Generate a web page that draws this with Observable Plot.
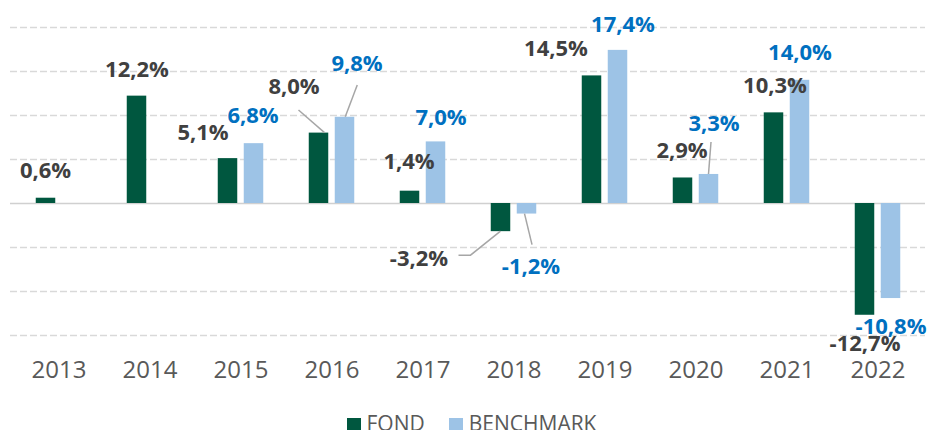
<!DOCTYPE html>
<html>
<head>
<meta charset="utf-8">
<script src="https://cdn.jsdelivr.net/npm/d3@7"></script>
<script src="https://cdn.jsdelivr.net/npm/@observablehq/plot@0.6"></script>
<style>
  html, body { margin: 0; padding: 0; background: #fff; }
  body { width: 930px; height: 430px; overflow: hidden; font-family: "Open Sans", sans-serif; }
  #legend { display: flex; justify-content: center; align-items: flex-start; margin-top: 8px; margin-left: 13px;
            font-size: 21px; line-height: 21px; color: #595959; }
  #legend .item { display: flex; align-items: flex-start; }
  #legend .sw { width: 14px; height: 14px; margin-top: 5px; margin-right: 6px; }
  #legend .item + .item { margin-left: 24px; }
</style>
</head>
<body>
<div id="chart"></div>
<div id="legend"></div>
<script>
// ---- data ----
const years = [2013, 2014, 2015, 2016, 2017, 2018, 2019, 2020, 2021, 2022];
const fondValues = [0.6, 12.2, 5.1, 8.0, 1.4, -3.2, 14.5, 2.9, 10.3, -12.7];
const benchmarkValues = [null, null, 6.8, 9.8, 7.0, -1.2, 17.4, 3.3, 14.0, -10.8];
const seriesNames = ["FOND", "BENCHMARK"];
const yTicks = [-15, -10, -5, 0, 5, 10, 15, 20];

// ---- styles ----
const colors = { FOND: "#00573F", BENCHMARK: "#9DC3E6" };
const labelColors = { FOND: "#404040", BENCHMARK: "#0070C0" };

// label placement (pixel offsets from band centre / bar end)
const labelOffsets = {
  FOND: {
    2013: [-13.5, -27], 2014: [-13, -26], 2015: [-38, -26], 2016: [-38, -46], 2017: [-14, -29],
    2018: [-95, 27], 2019: [-49, -27], 2020: [-14, -27], 2021: [-12, -27], 2022: [-13, 29]
  },
  BENCHMARK: {
    2015: [12, -28], 2016: [25, -53], 2017: [18, -24], 2018: [17, 53], 2019: [18, -25],
    2020: [18, -51], 2021: [13, -27], 2022: [13, 28]
  }
};
const leaderOffsets = [
  { series: "FOND", year: 2016, pts: [[-33, -22.6], [-7, 0]] },
  { series: "BENCHMARK", year: 2016, pts: [[25.75, -31.8], [13.75, 0]] },
  { series: "FOND", year: 2018, pts: [[-55, 24], [-43, 24], [-13, 0]] },
  { series: "BENCHMARK", year: 2018, pts: [[11, 0], [18.5, 31]] },
  { series: "BENCHMARK", year: 2020, pts: [[15.5, -32], [13, 0]] }
];

const fmt = v => v.toFixed(1).replace(".", ",") + "%";

const rows = [];
years.forEach((y, i) => {
  rows.push({ year: y, series: "FOND", value: fondValues[i] });
  if (benchmarkValues[i] != null) rows.push({ year: y, series: "BENCHMARK", value: benchmarkValues[i] });
});
const valueOf = (series, year) => rows.find(r => r.series === series && r.year === year).value;

const W = 930, ML = 10, MR = 5;
const bw = (W - ML - MR) / years.length;
const barW = 20, gap = 6;

const fondRows = rows.filter(r => r.series === "FOND");
const benchRows = rows.filter(r => r.series === "BENCHMARK");

const labelMarks = rows.map(r => {
  const [dx, dy] = labelOffsets[r.series][r.year];
  return Plot.text([r], {
    x: "year", y: "value", text: d => fmt(d.value), dx, dy,
    fill: labelColors[r.series], fontSize: 22, fontWeight: "bold",
    fontFamily: "Open Sans"
  });
});

function leaders(index, scales) {
  const sx = scales.x, sy = scales.y;
  const step = sx(years[1]) - sx(years[0]);
  const g = d3.create("svg:g").attr("fill", "none").attr("stroke", "#a6a6a6").attr("stroke-width", 1.5);
  for (const l of leaderOffsets) {
    const cx = sx(l.year) + step / 2;
    const cy = sy(valueOf(l.series, l.year));
    g.append("polyline").attr("points", l.pts.map(([dx, dy]) => `${cx + dx},${cy + dy}`).join(" "));
  }
  return g.node();
}

const chart = Plot.plot({
  width: W,
  height: 405,
  marginLeft: ML,
  marginRight: MR,
  marginTop: 27,
  marginBottom: 70,
  style: { fontFamily: "Open Sans", background: "#fff" },
  x: { type: "band", domain: years, padding: 0, label: null },
  y: { domain: [-15, 20], axis: null },
  marks: [
    Plot.ruleY(yTicks.filter(t => t !== 0), { stroke: "#d9d9d9", strokeWidth: 1.5, strokeDasharray: "7,3" }),
    Plot.ruleY([0], { stroke: "#d0d0d0", strokeWidth: 1.5 }),
    Plot.barY(fondRows, { x: "year", y: "value", fill: colors.FOND,
      insetLeft: bw / 2 - gap / 2 - barW, insetRight: bw / 2 + gap / 2 }),
    Plot.barY(benchRows, { x: "year", y: "value", fill: colors.BENCHMARK,
      insetLeft: bw / 2 + gap / 2, insetRight: bw / 2 - gap / 2 - barW }),
    leaders,
    ...labelMarks,
    Plot.axisX({ tickSize: 0, tickPadding: 25, fontSize: 24, color: "#595959", label: null,
      fontFamily: "Open Sans", tickFormat: d => String(d) })
  ]
});
document.getElementById("chart").appendChild(chart);

const legend = document.getElementById("legend");
seriesNames.forEach(name => {
  const item = document.createElement("div");
  item.className = "item";
  const sw = document.createElement("div");
  sw.className = "sw";
  sw.style.background = colors[name];
  const t = document.createElement("span");
  t.textContent = name;
  item.appendChild(sw);
  item.appendChild(t);
  legend.appendChild(item);
});
</script>
</body>
</html>
